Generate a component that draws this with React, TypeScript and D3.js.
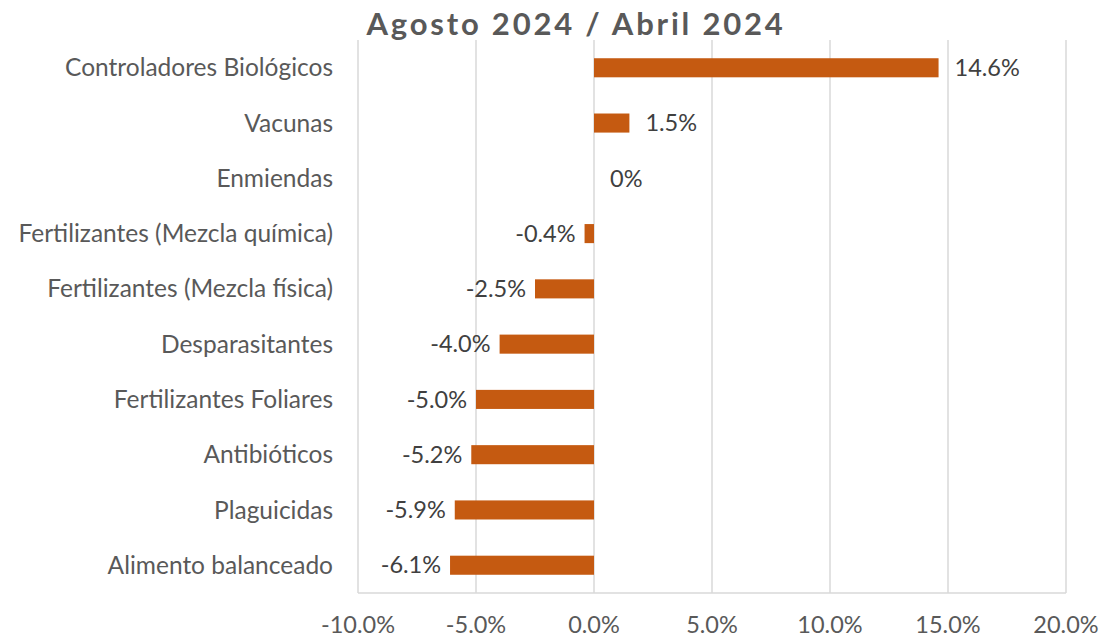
import React, { useEffect, useRef } from 'react';
import * as d3 from 'd3';

const categories = [
  'Controladores Biológicos',
  'Vacunas',
  'Enmiendas',
  'Fertilizantes (Mezcla química)',
  'Fertilizantes (Mezcla física)',
  'Desparasitantes',
  'Fertilizantes Foliares',
  'Antibióticos',
  'Plaguicidas',
  'Alimento balanceado',
];
const variation = [0.146, 0.015, 0, -0.004, -0.025, -0.04, -0.05, -0.052, -0.059, -0.061];
const xTicks = [-0.1, -0.05, 0, 0.05, 0.1, 0.15, 0.2];
const titleText = 'Agosto 2024 / Abril 2024';

const width = 1101;
const height = 639;
const margin = { top: 40, right: 35, bottom: 46, left: 358 };
const barColor = '#C55A11';
const font = 'Lato, "Open Sans", sans-serif';

function App() {
  const ref = useRef<SVGGElement>(null);

  useEffect(() => {
    const g = d3.select(ref.current);
    g.selectAll('*').remove();

    const x = d3.scaleLinear()
      .domain([-0.1, 0.2])
      .range([margin.left, width - margin.right]);
    const y = d3.scaleBand()
      .domain(categories)
      .range([margin.top, height - margin.bottom])
      .paddingInner(0.655)
      .paddingOuter(0.33);

    // gridlines
    g.append('g')
      .selectAll('line')
      .data(xTicks)
      .join('line')
      .attr('x1', d => x(d)).attr('x2', d => x(d))
      .attr('y1', margin.top).attr('y2', height - margin.bottom)
      .attr('stroke', '#d9d9d9').attr('stroke-width', 1.5);

    g.append('line')
      .attr('x1', x(-0.1)).attr('x2', x(0.2))
      .attr('y1', height - margin.bottom).attr('y2', height - margin.bottom)
      .attr('stroke', '#d9d9d9').attr('stroke-width', 1.5);

    // plain hyphen for negatives, like the original
    const fmt = d3.formatLocale({ decimal: '.', thousands: ',', grouping: [3], currency: ['', ''], minus: '-' }).format('.1%');

    // x tick labels
    g.append('g')
      .selectAll('text')
      .data(xTicks)
      .join('text')
      .attr('x', d => x(d))
      .attr('y', 633)
      .attr('text-anchor', 'middle')
      .attr('font-family', font)
      .attr('font-size', 23.5)
      .attr('fill', '#595959')
      .text(d => fmt(d));

    // category labels
    g.append('g')
      .selectAll('text')
      .data(categories)
      .join('text')
      .attr('x', 333)
      .attr('y', d => y(d)! + y.bandwidth() / 2)
      .attr('dy', '0.35em')
      .attr('text-anchor', 'end')
      .attr('font-family', font)
      .attr('font-size', 24.5)
      .attr('fill', '#595959')
      .text(d => d);

    // bars
    g.append('g')
      .selectAll('rect')
      .data(variation)
      .join('rect')
      .attr('x', d => x(Math.min(0, d)))
      .attr('width', d => Math.abs(x(d) - x(0)))
      .attr('y', (d, i) => y(categories[i])!)
      .attr('height', y.bandwidth())
      .attr('fill', barColor);

    // value labels
    g.append('g')
      .selectAll('text')
      .data(variation)
      .join('text')
      .attr('x', d => (d >= 0 ? x(d) + 16 : x(d) - 9))
      .attr('y', (d, i) => y(categories[i])! + y.bandwidth() / 2)
      .attr('dy', '0.35em')
      .attr('text-anchor', d => (d >= 0 ? 'start' : 'end'))
      .attr('font-family', font)
      .attr('font-size', 23.5)
      .attr('fill', '#404040')
      .text(d => (d === 0 ? '0%' : fmt(d)));

    // title
    g.append('text')
      .attr('x', 576)
      .attr('y', 35)
      .attr('text-anchor', 'middle')
      .attr('font-family', font)
      .attr('font-weight', 700)
      .attr('font-size', 31)
      .attr('letter-spacing', 2.8)
      .attr('fill', '#595959')
      .attr('stroke', 'white')
      .attr('stroke-width', 8)
      .attr('paint-order', 'stroke')
      .text(titleText);
  }, []);

  return (
    <svg width={width} height={height} style={{ position: 'absolute', left: 0, top: 0, background: 'white' }}>
      <g ref={ref} />
    </svg>
  );
}

export default App;
